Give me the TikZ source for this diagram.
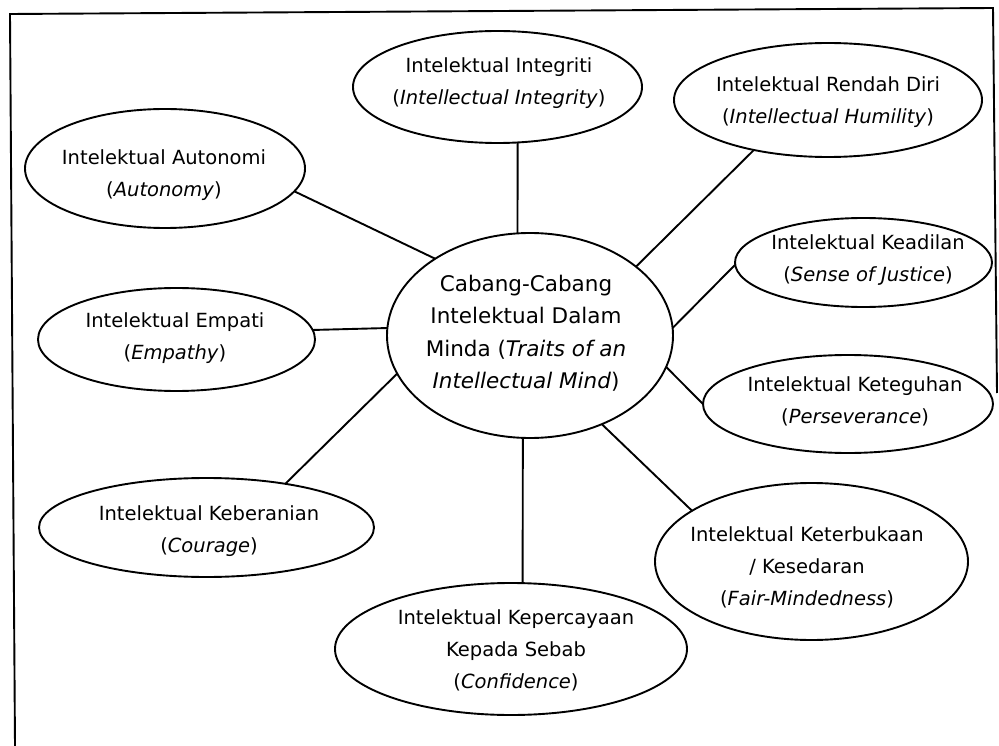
\documentclass[tikz,border=0pt]{standalone}
\usepackage{fontspec}
\setmainfont{DejaVu Sans}
\usetikzlibrary{shapes.geometric}
\tikzset{
  oval/.style={draw, ellipse, line width=1.9pt, inner sep=0pt, outer sep=0pt},
  otxt/.style={align=center, inner sep=0pt, font=\fontsize{19.5}{32}\selectfont},
  ctxt/.style={align=center, inner sep=0pt, font=\fontsize{21.5}{32.5}\selectfont},
  link/.style={line width=1.9pt},
  frameline/.style={line width=1.9pt}
}
\begin{document}
\begin{tikzpicture}[x=1pt,y=-1pt]
\useasboundingbox (0,0) rectangle (999,746);
\coordinate (f1) at (15,746);
\coordinate (f2) at (10,14);
\coordinate (f3) at (993,8);
\coordinate (f4) at (997,393);
\draw[frameline] (f1) -- (f2) -- (f3) -- (f4);

% ellipses
\node[oval, minimum width=286pt, minimum height=205pt] (cen) at (530,335.5) {};
\node[oval, minimum width=289pt, minimum height=112pt] (integ) at (497.5,87) {};
\node[oval, minimum width=308pt, minimum height=114pt] (rendah) at (828,100) {};
\node[oval, minimum width=280pt, minimum height=119pt] (auton) at (165,168.5) {};
\node[oval, minimum width=277pt, minimum height=103pt] (empati) at (176.5,339.5) {};
\node[oval, minimum width=257pt, minimum height=89pt] (keadilan) at (863.5,262.5) {};
\node[oval, minimum width=290pt, minimum height=98pt] (keteguhan) at (848,404) {};
\node[oval, minimum width=313pt, minimum height=157pt] (keterbukaan) at (811.5,561.5) {};
\node[oval, minimum width=352pt, minimum height=132pt] (kepercayaan) at (511,649) {};
\node[oval, minimum width=335pt, minimum height=99pt] (keberanian) at (206.5,527.5) {};

% texts
\node[ctxt] (cen-t) at (526,333) {Cabang-Cabang\\Intelektual Dalam\\Minda (\textit{Traits of an}\\\textit{Intellectual Mind})};
\node[otxt] (integ-t) at (499,83) {Intelektual Integriti\\(\textit{Intellectual Integrity})};
\node[otxt] (rendah-t) at (828,102) {Intelektual Rendah Diri\\(\textit{Intellectual Humility})};
\node[otxt] (auton-t) at (164,175) {Intelektual Autonomi\\(\textit{Autonomy})};
\node[otxt] (empati-t) at (175,338) {Intelektual Empati\\(\textit{Empathy})};
\node[otxt] (keadilan-t) at (868,260) {Intelektual Keadilan\\(\textit{Sense of Justice})};
\node[otxt] (keteguhan-t) at (855,401) {Intelektual Keteguhan\\(\textit{Perseverance})};
\node[otxt] (keterbukaan-t) at (807,567) {Intelektual Keterbukaan\\/ Kesedaran\\(\textit{Fair-Mindedness})};
\node[otxt] (kepercayaan-t) at (516,650) {Intelektual Kepercayaan\\Kepada Sebab\\(\textit{Confidence})};
\node[otxt] (keberanian-t) at (209,531) {Intelektual Keberanian\\(\textit{Courage})};

% connectors
\draw[link] (cen.141.4) -- (auton.-10.2);
\draw[link] (cen.97.3) -- (integ.-70.6);
\draw[link] (cen.33) -- (rendah.-146);
\draw[link] (cen.3.4) -- (keadilan.181);
\draw[link] (cen.-13.5) -- (keteguhan.180);
\draw[link] (cen.-51.4) -- (keterbukaan.157.8);
\draw[link] (cen.-94) -- (kepercayaan.80);
\draw[link] (cen.-164.3) -- (keberanian.29);
\draw[link] (cen.177) -- (empati.4.7);
\end{tikzpicture}
\end{document}
